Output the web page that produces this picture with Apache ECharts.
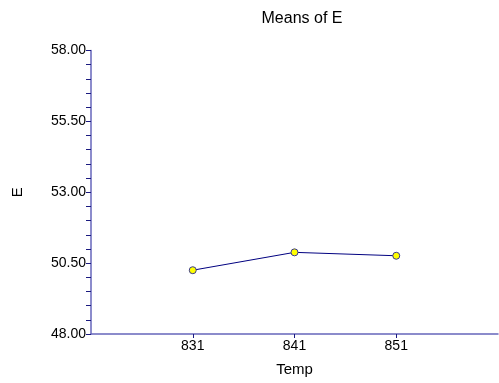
<!DOCTYPE html>
<html><head><meta charset="utf-8">
<script src="https://cdn.jsdelivr.net/npm/echarts@6/dist/echarts.min.js"></script>
<style>html,body{margin:0;padding:0;background:#fff}#c{width:499px;height:383px}</style>
</head><body><div id="c"></div>
<script>
var temps = [831, 841, 851];
var means = [50.25, 50.88, 50.76];
var yLabels = [48, 50.5, 53, 55.5, 58];
var title = 'Means of E';
var xName = 'Temp';
var yName = 'E';

var chart = echarts.init(document.getElementById('c'), null, {renderer: 'canvas'});
var font = 'Liberation Sans, Arial, sans-serif';
chart.setOption({
  animation: false,
  title: {text: title, left: 297, top: 6, textAlign: 'center',
    textStyle: {fontFamily: font, fontSize: 16, fontWeight: 'normal', color: '#000'}},
  grid: {left: 91, right: 1, top: 50.5, bottom: 49},
  xAxis: {
    type: 'value', min: 821, max: 861, interval: 10,
    name: xName, nameLocation: 'middle', nameGap: 28,
    nameTextStyle: {fontFamily: font, fontSize: 15, color: '#000'},
    axisLine: {lineStyle: {color: '#6666bb', width: 1.5}},
    axisTick: {show: true, length: 4, customValues: temps, lineStyle: {color: '#1a1a80'}},
    axisLabel: {customValues: temps, fontFamily: font, fontSize: 14, color: '#000', margin: 5},
    splitLine: {show: false}
  },
  yAxis: {
    type: 'value', min: 48, max: 58, interval: 0.5,
    name: yName, nameLocation: 'middle', nameGap: 66, nameRotate: 90,
    nameTextStyle: {fontFamily: font, fontSize: 15, color: '#000'},
    axisLine: {show: true, lineStyle: {color: '#6666bb', width: 1.5}},
    axisTick: {show: true, length: 5, lineStyle: {color: '#1a1a80', width: 1}},
    minorTick: {show: false},
    axisLabel: {interval: 0, fontFamily: font, fontSize: 14, color: '#000', margin: 5,
      formatter: function (v) {
        for (var i = 0; i < yLabels.length; i++) { if (Math.abs(yLabels[i] - v) < 1e-6) return v.toFixed(2); }
        return '';
      }},
    splitLine: {show: false}
  },
  series: [{
    type: 'line',
    data: temps.map(function (t, i) { return [t, means[i]]; }),
    lineStyle: {color: '#000080', width: 1},
    symbol: 'circle', symbolSize: 7,
    itemStyle: {color: '#ffff00', borderColor: '#3a3a90', borderWidth: 1}
  }]
});
</script></body></html>
